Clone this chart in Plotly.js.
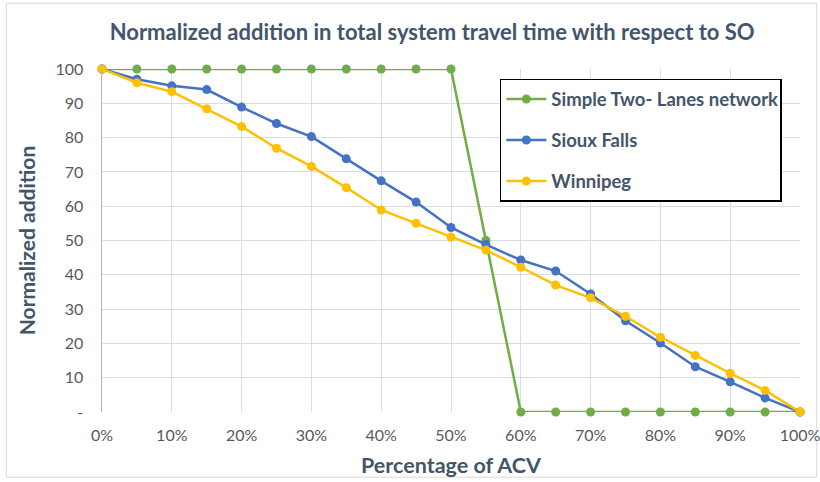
<!DOCTYPE html>
<html>
<head>
<meta charset="utf-8">
<script src="https://cdn.plot.ly/plotly-3.0.1.min.js"></script>
<style>html,body{margin:0;padding:0;background:#fff;}#chart{width:820px;height:482px;}</style>
</head>
<body>
<div id="chart"></div>
<script>
const acv = [0,5,10,15,20,25,30,35,40,45,50,55,60,65,70,75,80,85,90,95,100];
const twoLanes = [100,100,100,100,100,100,100,100,100,100,100,50,0,0,0,0,0,0,0,0,0];
const siouxFalls = [100,97,95.1,94,88.9,84.1,80.3,73.8,67.4,61.2,53.8,48.8,44.3,41.1,34.4,26.6,20.1,13.2,8.8,4.1,0];
const winnipeg = [100,96,93.4,88.4,83.2,76.9,71.6,65.4,58.9,55,51,47.2,42.2,37,33.3,27.9,21.8,16.5,11.3,6.3,0];
const seriesNames = ['Simple Two- Lanes network','Sioux Falls','Winnipeg'];
const xTickVals = [0,10,20,30,40,50,60,70,80,90,100];
const xTickText = ['0%','10%','20%','30%','40%','50%','60%','70%','80%','90%','100%'];
const yTickVals = [0,10,20,30,40,50,60,70,80,90,100];
const yTickText = ['-','10','20','30','40','50','60','70','80','90','100'];

const colors = ['#70ad47','#4472c4','#ffc000'];
const ys = [twoLanes, siouxFalls, winnipeg];
const traces = ys.map((y,i)=>({
  x: acv, y: y, name: seriesNames[i], type:'scatter', mode:'lines+markers',
  legendgroup: 'g'+i,
  line:{color:colors[i], width:2.5},
  marker:{color:colors[i], size:9},
  cliponaxis:false
}));

const font = 'Lato, "Open Sans", sans-serif';
const layout = {
  width:820, height:482,
  margin:{l:102, r:20, t:69, b:70},
  paper_bgcolor:'#fff', plot_bgcolor:'#fff',
  font:{family:font, color:'#595959'},
  title:{text:'<b>Normalized addition in total system travel time with respect to SO</b>',
    font:{family:font, size:22, color:'#44546a'}, x:0.473, xref:'paper', xanchor:'center', y:0.932, yanchor:'middle'},
  xaxis:{range:[0,100], tickvals:xTickVals, ticktext:xTickText, showgrid:true, gridcolor:'#d9dde5', gridwidth:1,
    zeroline:false, showline:false, ticks:'', tickfont:{size:16, color:'#595959'}, ticklabelstandoff:12,
    ticklabeloverflow:'allow',
    title:{text:'<b>Percentage of ACV</b>', font:{size:21.5, color:'#44546a'}, standoff:14}},
  yaxis:{range:[0,100], tickvals:yTickVals, ticktext:yTickText, showgrid:true, gridcolor:'#d9dde5', gridwidth:1,
    zeroline:false, showline:true, linecolor:'#a9b8d8', linewidth:1.5, ticks:'', tickfont:{size:16, color:'#595959'},
    ticklabelstandoff:14,
    title:{text:'<b>Normalized addition</b>', font:{size:21, color:'#44546a'}, standoff:14}},
  showlegend:true,
  legend:{x:0.57, y:0.971, xanchor:'left', yanchor:'top', bgcolor:'#fff', bordercolor:'#000', borderwidth:1.5,
    font:{size:18.5, color:'#44546a', family:font}, traceorder:'grouped', tracegroupgap:14, itemwidth:40},
  shapes:[{type:'rect', xref:'paper', yref:'paper', x0:-0.137, x1:1.024, y0:-0.19, y1:1.192,
    line:{color:'#d9d9d9', width:1}, fillcolor:'rgba(0,0,0,0)', layer:'below'}]
};
Plotly.newPlot('chart', traces, layout, {displayModeBar:false, staticPlot:true}).then(()=>{
  document.querySelectorAll('.legendtext').forEach(t=>t.style.fontWeight='bold');
});
</script>
</body>
</html>
